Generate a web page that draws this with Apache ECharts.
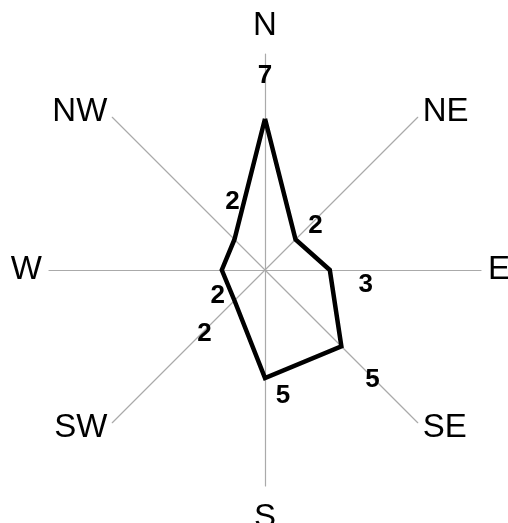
<!DOCTYPE html>
<html>
<head>
<meta charset="utf-8">
<script src="https://cdn.jsdelivr.net/npm/echarts@6/dist/echarts.min.js"></script>
<style>
html,body{margin:0;padding:0;background:#fff;}
#chart{width:508px;height:523px;}
</style>
</head>
<body>
<div id="chart"></div>
<script>
const directions = ['N', 'NE', 'E', 'SE', 'S', 'SW', 'W', 'NW'];
const speeds = [7, 2, 3, 5, 5, 2, 2, 2];
const axisMax = 10;
const labelOffsets = [[0, -43], [20, -14], [36, 15], [31, 33], [18, 18], [-30, 33], [-4, 26], [-2, -38]];

const FONT = 'Liberation Sans, Arial, Helvetica, sans-serif';
const step = 360 / directions.length;

// radar lays indicators counter-clockwise; reorder so they run clockwise from N
const radarOrder = directions.map((d, i) => (directions.length - i) % directions.length);

const lineData = directions.map((d, i) => ({
  value: [speeds[i], i * step],
  label: { offset: labelOffsets[i] }
}));
lineData.push({ value: [speeds[0], 360], label: { show: false } });

const nameStyle = { fontFamily: FONT, fontSize: 33, color: '#000' };

const chart = echarts.init(document.getElementById('chart'), null, { renderer: 'canvas' });
chart.setOption({
  backgroundColor: '#ffffff',
  animation: false,
  radar: {
    center: [265, 270], radius: 216, startAngle: 90,
    splitNumber: 1, shape: 'circle',
    indicator: radarOrder.map(i => ({ name: directions[i], min: 0, max: axisMax })),
    nameGap: 7,
    axisName: {
      fontFamily: FONT, fontSize: 33, color: '#000',
      formatter: n => n === 'N' ? '{n|N}' : (n === 'S' ? '{s|S}' : '{o|' + n + '}'),
      rich: {
        n: Object.assign({ padding: [0, 0, 5, 0] }, nameStyle),
        s: Object.assign({ padding: [8, 0, 0, 0] }, nameStyle),
        o: Object.assign({}, nameStyle)
      }
    },
    axisLine: { show: true, lineStyle: { color: '#aaaaaa', width: 1.2 } },
    axisTick: { show: false },
    axisLabel: { show: false },
    splitLine: { show: false },
    splitArea: { show: false }
  },
  polar: { center: [265, 270], radius: 216 },
  angleAxis: {
    type: 'value', min: 0, max: 360, interval: step,
    startAngle: 90, clockwise: true,
    axisLine: { show: false }, axisTick: { show: false },
    splitLine: { show: false }, axisLabel: { show: false }
  },
  radiusAxis: {
    type: 'value', min: 0, max: axisMax,
    axisLine: { show: false }, axisTick: { show: false },
    axisLabel: { show: false }, splitLine: { show: false }
  },
  series: [{
    type: 'line',
    coordinateSystem: 'polar',
    data: lineData,
    symbol: 'circle',
    symbolSize: 0,
    lineStyle: { color: '#000', width: 4.5, join: 'miter' },
    itemStyle: { color: '#000' },
    label: {
      show: true, position: 'inside',
      formatter: p => String(p.value[0]),
      fontFamily: FONT, fontSize: 26, fontWeight: 'bold', color: '#000'
    }
  }]
});
</script>
</body>
</html>
